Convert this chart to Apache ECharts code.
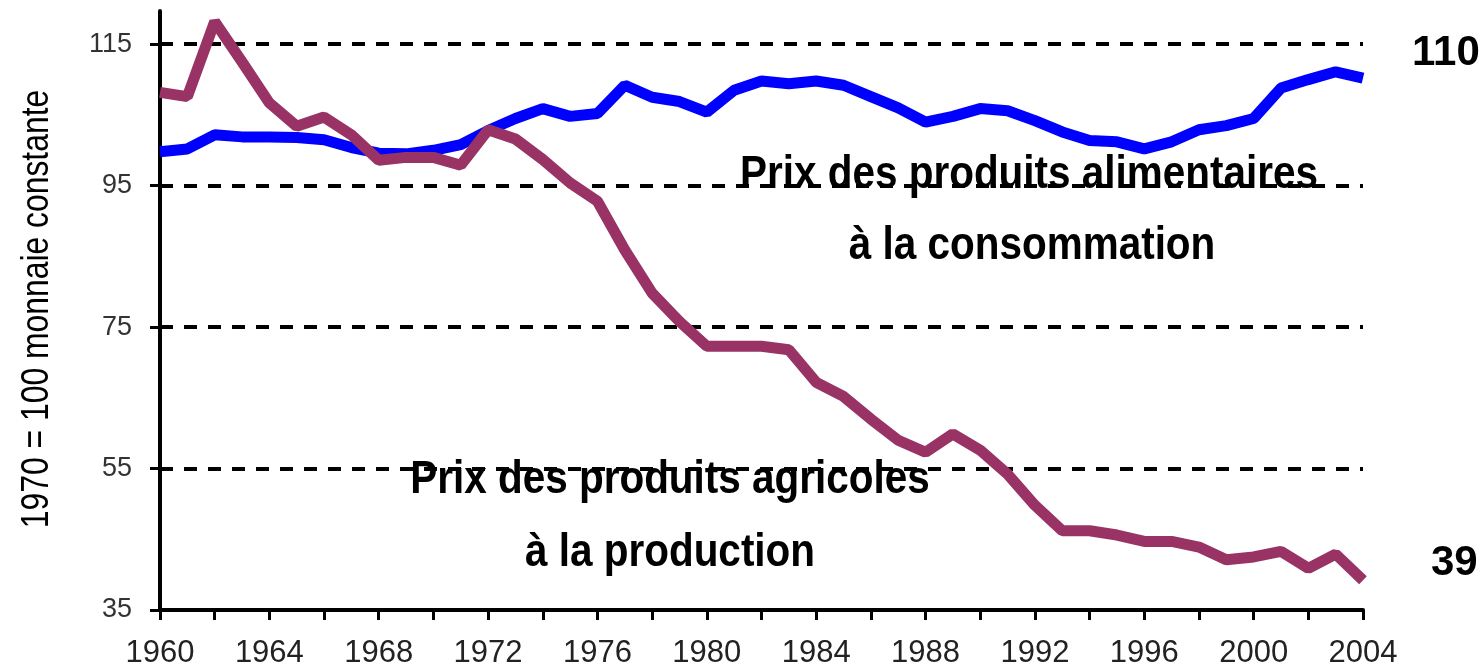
<!DOCTYPE html>
<html>
<head>
<meta charset="utf-8">
<script src="https://cdn.jsdelivr.net/npm/echarts@6/dist/echarts.min.js"></script>
<style>
html,body{margin:0;padding:0;background:#fff;}
#chart{width:1484px;height:670px;}
</style>
</head>
<body>
<div id="chart"></div>
<script>
const years = [1960,1961,1962,1963,1964,1965,1966,1967,1968,1969,1970,1971,1972,1973,1974,1975,1976,1977,1978,1979,1980,1981,1982,1983,1984,1985,1986,1987,1988,1989,1990,1991,1992,1993,1994,1995,1996,1997,1998,1999,2000,2001,2002,2003,2004];
const consumerFood = [99.8,100.2,102.2,101.9,101.9,101.8,101.5,100.4,99.6,99.5,100.0,100.8,102.8,104.5,105.9,104.8,105.2,109.2,107.5,106.9,105.4,108.5,109.8,109.4,109.8,109.2,107.6,106.0,104.0,104.8,105.9,105.6,104.2,102.6,101.4,101.2,100.2,101.2,102.9,103.5,104.5,108.8,110.0,111.1,110.2];
const producerAgri = [108.2,107.6,118.2,112.5,106.7,103.4,104.7,102.2,98.6,99.0,99.0,97.9,102.9,101.6,98.7,95.4,92.8,85.9,79.8,75.8,72.3,72.3,72.3,71.8,67.2,65.2,62.0,59.0,57.3,59.9,57.6,54.2,49.8,46.2,46.2,45.6,44.7,44.7,43.9,42.1,42.5,43.3,40.9,42.9,39.2];
const yTicks = [35,55,75,95,115];
const xTickYears = [1960,1962,1964,1966,1968,1970,1972,1974,1976,1978,1980,1982,1984,1986,1988,1990,1992,1994,1996,1998,2000,2002,2004];
const xLabelYears = [1960,1964,1968,1972,1976,1980,1984,1988,1992,1996,2000,2004];
const yAxisTitle = '1970 = 100 monnaie constante';
const annotFood = ['Prix des produits alimentaires', 'à la consommation'];
const annotAgri = ['Prix des produits agricoles', 'à la production'];

const SANS = "'Liberation Sans',Arial,sans-serif";

const chart = echarts.init(document.getElementById('chart'), null, {renderer:'canvas'});

const endLbl = (dx, dy) => ({
  show: true,
  formatter: p => String(Math.round(p.value[1])),
  offset: [dx, dy],
  fontFamily: SANS,
  fontWeight: 'bold',
  fontSize: 42,
  color: '#000'
});

const annotStyle = {fontFamily: SANS, fontWeight: 'bold', fontSize: 46, fill: '#000', align: 'center', verticalAlign: 'middle'};
const annot = (text, x, y) => ({type: 'text', x: x, y: y, scaleX: 0.88, z: 10, style: Object.assign({text: text}, annotStyle)});

chart.setOption({
  animation: false,
  backgroundColor: '#fff',
  grid: {left: 160, right: 121, top: 11, bottom: 60, containLabel: false},
  xAxis: {
    type: 'value', min: 1960, max: 2004, interval: 2,
    axisLine: {show: true, lineStyle: {color: '#000', width: 4}},
    axisTick: {show: true, length: 10, inside: false, lineStyle: {color: '#000', width: 3}, customValues: xTickYears},
    axisLabel: {customValues: xLabelYears, margin: 28, fontFamily: SANS, fontSize: 31, color: '#222', formatter: v => String(v)},
    splitLine: {show: false}
  },
  yAxis: {
    type: 'value', min: 35, max: 119.7, interval: 20,
    axisLine: {show: true, lineStyle: {color: '#000', width: 4}},
    axisTick: {show: true, length: 10, inside: false, lineStyle: {color: '#000', width: 3}, customValues: yTicks},
    axisLabel: {customValues: yTicks, margin: 28, fontFamily: SANS, fontSize: 27, color: '#333', formatter: v => String(v)},
    splitLine: {show: true, showMinLine: false, showMaxLine: true, lineStyle: {color: '#000', width: 4, type: [13, 11]}}
  },
  series: [
    {
      name: annotFood.join(' '), type: 'line', symbol: 'none',
      data: years.map((y, i) => [y, consumerFood[i]]),
      lineStyle: {color: '#0000FF', width: 11},
      itemStyle: {color: '#0000FF'},
      endLabel: endLbl(41, -25),
      z: 2
    },
    {
      name: annotAgri.join(' '), type: 'line', symbol: 'none',
      data: years.map((y, i) => [y, producerAgri[i]]),
      lineStyle: {color: '#993366', width: 11},
      itemStyle: {color: '#993366'},
      endLabel: endLbl(60, -17),
      z: 3
    }
  ],
  graphic: [
    {type: 'text', x: 37, y: 309, rotation: Math.PI / 2, scaleX: 0.817, z: 10,
     style: {text: yAxisTitle, fontFamily: SANS, fontSize: 39, fill: '#000', align: 'center', verticalAlign: 'middle'}},
    annot(annotFood[0], 1029, 175),
    annot(annotFood[1], 1032, 246),
    annot(annotAgri[0], 670, 480),
    annot(annotAgri[1], 670, 553)
  ]
});
</script>
</body>
</html>
